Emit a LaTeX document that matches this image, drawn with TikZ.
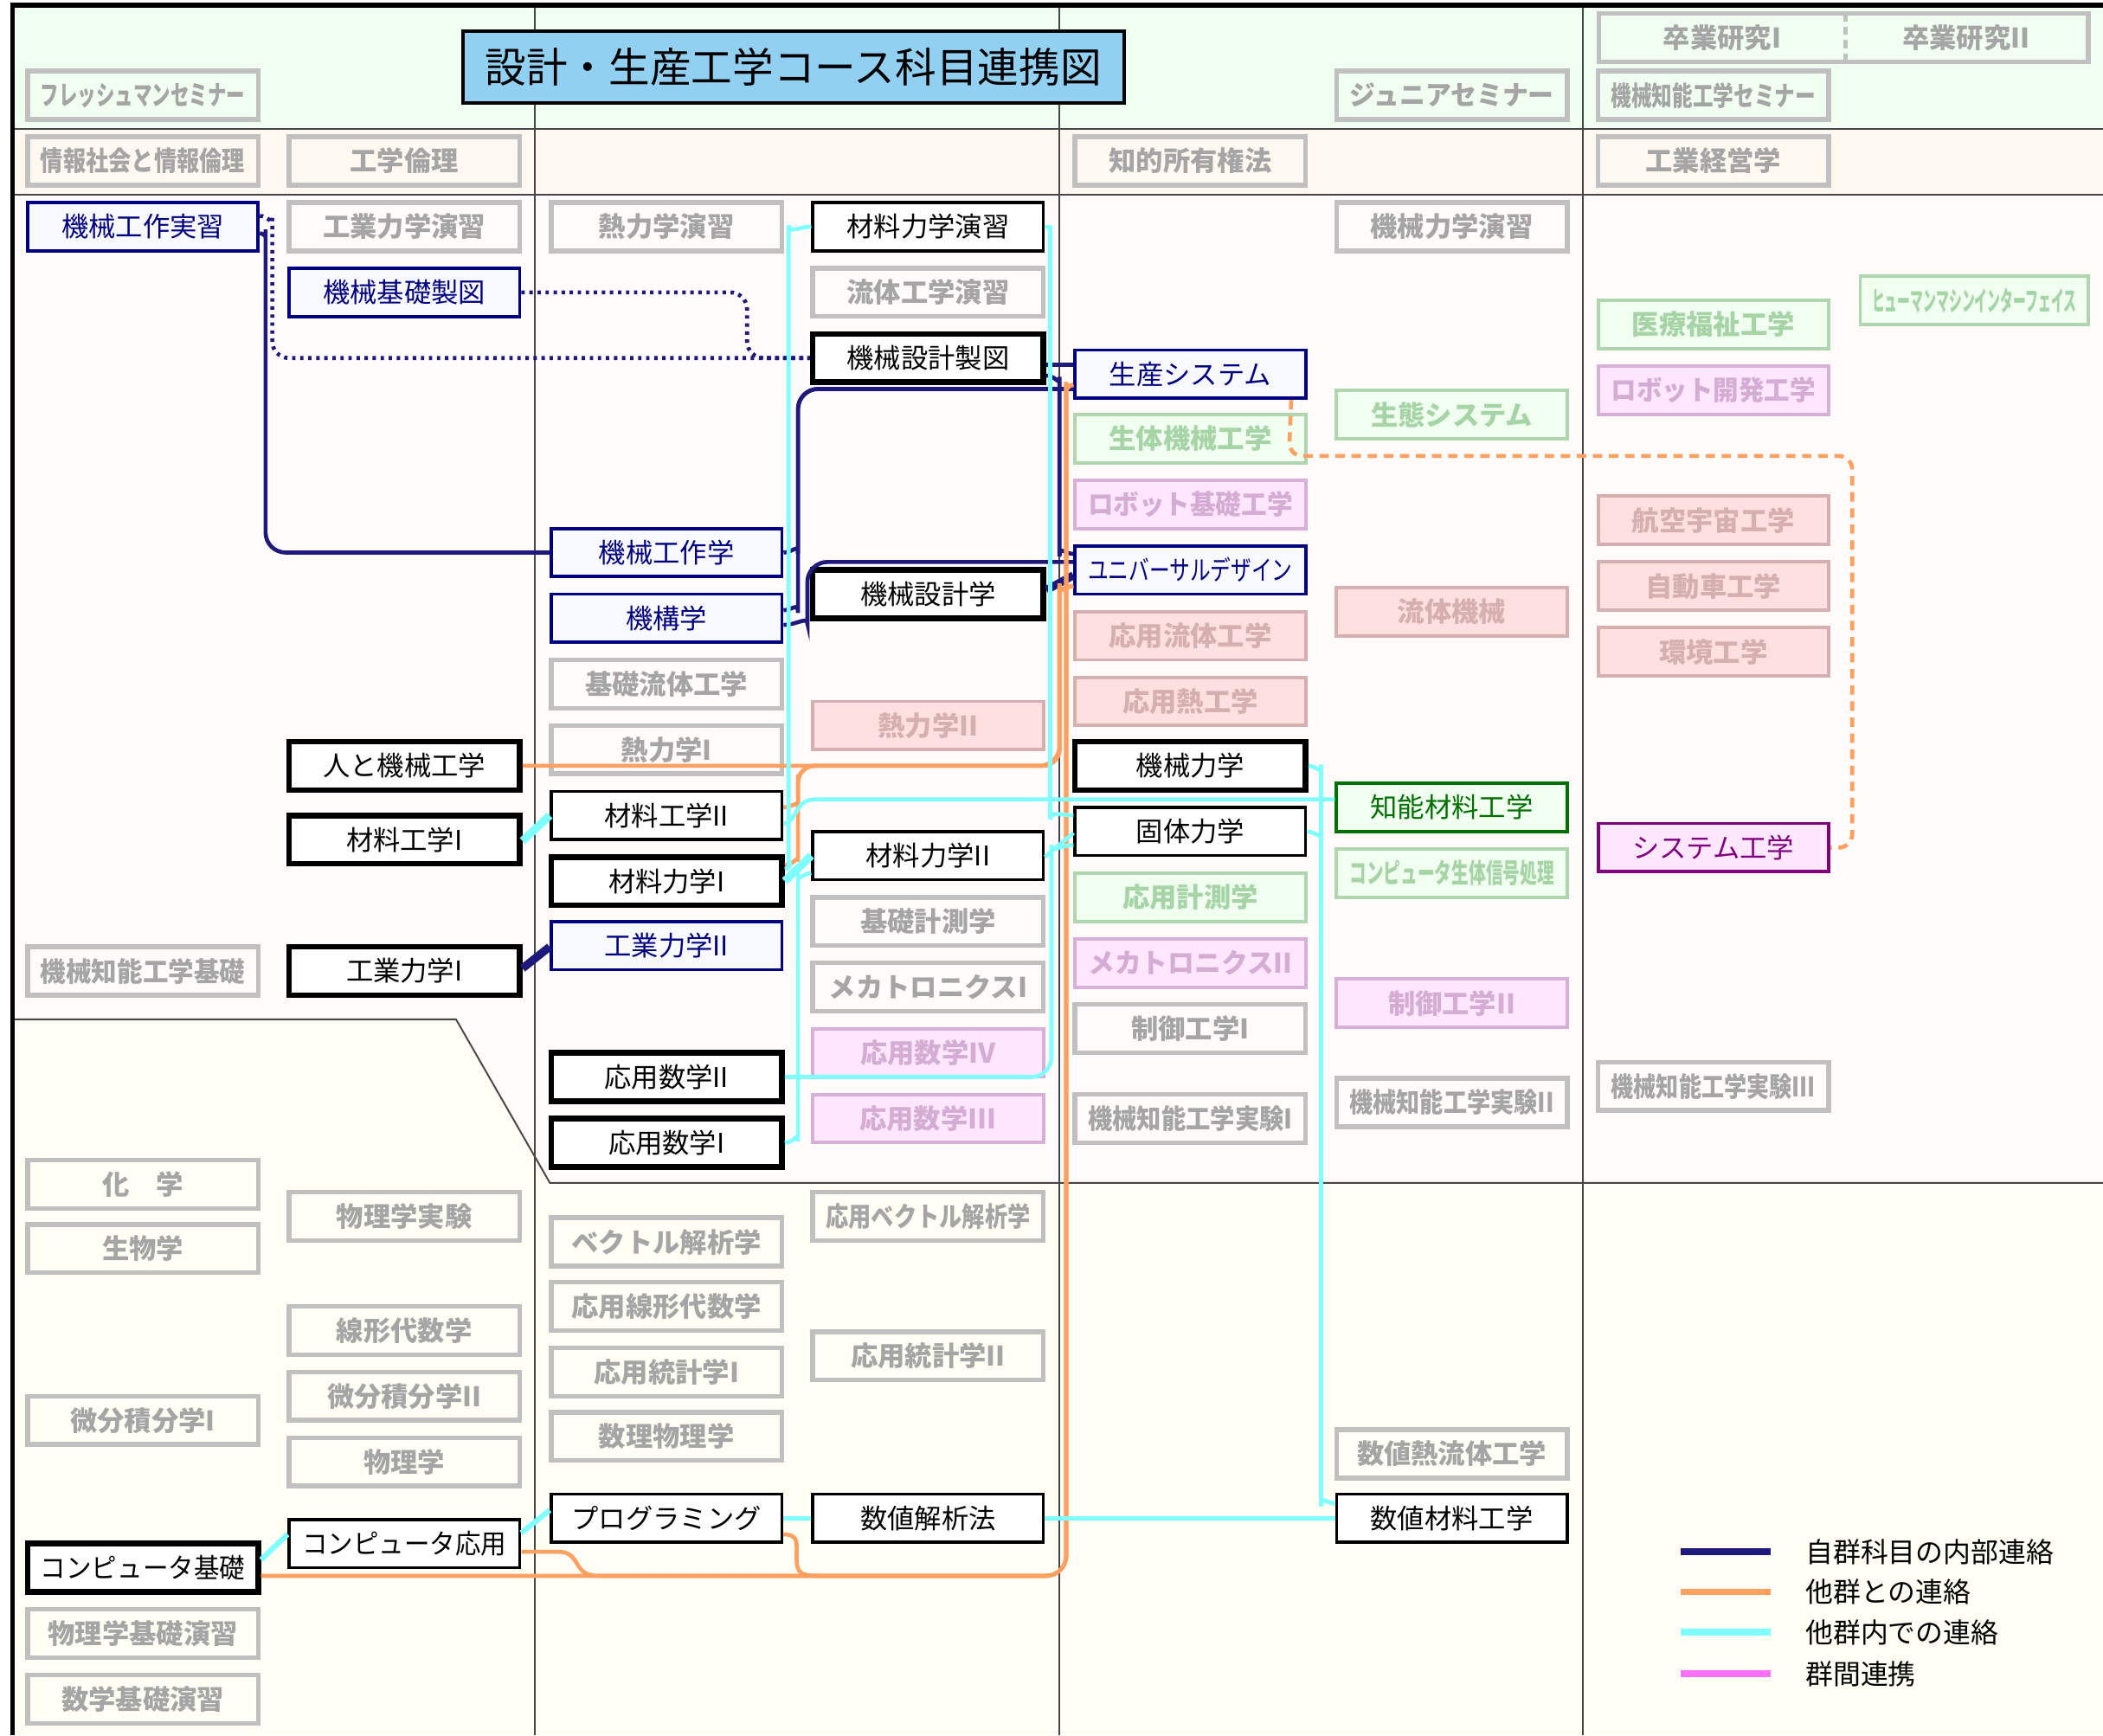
\documentclass[tikz,border=0pt]{standalone}
\usepackage{graphicx}
\usepackage{fontspec}
\setmainfont{Noto Sans CJK JP}
\usetikzlibrary{calc}

\definecolor{rowone}{RGB}{240,255,240}
\definecolor{rowtwo}{RGB}{255,248,240}
\definecolor{mainbg}{RGB}{255,251,250}
\definecolor{lowbg}{RGB}{255,255,245}
\definecolor{gridc}{RGB}{70,70,70}
\definecolor{dimline}{RGB}{192,192,192}
\definecolor{dimtext}{RGB}{165,165,165}
\definecolor{navybox}{RGB}{0,0,128}
\definecolor{navyfill}{RGB}{248,248,255}
\definecolor{navylink}{RGB}{30,25,125}
\definecolor{orangelink}{RGB}{255,160,96}
\definecolor{cyanlink}{RGB}{128,255,255}
\definecolor{pinklink}{RGB}{255,112,255}
\definecolor{fgfill}{RGB}{240,255,240}
\definecolor{fgline}{RGB}{176,214,176}
\definecolor{fgtext}{RGB}{166,212,166}
\definecolor{frfill}{RGB}{255,224,224}
\definecolor{frline}{RGB}{214,176,176}
\definecolor{frtext}{RGB}{214,176,176}
\definecolor{fmfill}{RGB}{255,232,255}
\definecolor{fmline}{RGB}{214,176,214}
\definecolor{fmtext}{RGB}{212,172,212}
\definecolor{chinoc}{RGB}{0,112,0}
\definecolor{sysc}{RGB}{128,0,128}
\definecolor{titlefill}{RGB}{146,208,242}

% squeeze long course names into the box
\newsavebox\lblbox
\newlength\lblmax
\setlength\lblmax{3.05cm}
\newcommand\fl[1]{\sbox\lblbox{#1}\ifdim\wd\lblbox>\lblmax\resizebox{\lblmax}{\ht\lblbox}{\usebox\lblbox}\else\usebox\lblbox\fi}

\tikzset{
    crs/.style={draw, minimum width=3.44cm, minimum height=0.72cm, inner sep=0pt,
        font=\fontsize{11.5}{13}\selectfont},
    dimbox/.style={crs, draw=dimline, line width=0.07cm, text=dimtext,
        font=\fontsize{11.5}{13}\selectfont\bfseries},
    corebox/.style={crs, fill=white, line width=0.085cm},
    thinbox/.style={crs, fill=white, line width=0.045cm},
    ownbox/.style={crs, draw=navybox, fill=navyfill, text=navybox, line width=0.05cm},
    greenbox/.style={crs, draw=fgline, fill=fgfill, text=fgtext, line width=0.05cm,
        font=\fontsize{11.5}{13}\selectfont\bfseries},
    redbox/.style={crs, draw=frline, fill=frfill, text=frtext, line width=0.05cm,
        font=\fontsize{11.5}{13}\selectfont\bfseries},
    pinkbox/.style={crs, draw=fmline, fill=fmfill, text=fmtext, line width=0.05cm,
        font=\fontsize{11.5}{13}\selectfont\bfseries},
    chinobox/.style={crs, draw=chinoc, fill=fgfill, text=chinoc, line width=0.05cm},
    sysbox/.style={crs, draw=sysc, fill=fmfill, text=sysc, line width=0.05cm},
    titlebox/.style={draw, fill=titlefill, line width=0.05cm, minimum width=9.86cm,
        minimum height=1.08cm, font=\fontsize{17.5}{20}\selectfont},
    legtext/.style={anchor=west, font=\fontsize{11.7}{13}\selectfont},
    link/.style={line width=0.06cm},
    ownlink/.style={link, draw=navylink},
    owndots/.style={ownlink, dash pattern=on 0.05cm off 0.07cm},
    otherlink/.style={link, draw=orangelink},
    otherdash/.style={otherlink, dash pattern=on 0.14cm off 0.1cm},
    innerlink/.style={link, draw=cyanlink},
    gridline/.style={draw=gridc, line width=0.025cm}
}

\begin{document}
\begin{tikzpicture}[x=0.02cm, y=-0.02cm]
\useasboundingbox (0,0) rectangle (1568,1294);

% background bands and frame
\fill[rowone] (10,5) rectangle (1568,96);
\fill[rowtwo] (10,96) rectangle (1568,145);
\fill[mainbg] (10,145) rectangle (1568,1294);
\fill[lowbg] (10,760) -- (340,760) -- (410,882) -- (1568,882) -- (1568,1294) -- (10,1294) -- cycle;
\draw[gridline] (10,96) -- (1568,96);
\draw[gridline] (10,145) -- (1568,145);
\draw[gridline] (10,760) -- (340,760) -- (410,882) -- (1568,882);
\foreach \gx in {399,790,1180}
    \draw[gridline] (\gx,5) -- (\gx,1294);
\fill[black] (8,2) rectangle (1568,6);
\fill[black] (8,2) rectangle (11,1294);

% title
\node[titlebox] (title) at (591.5,50) {設計・生産工学コース科目連携図};

% top rows
\node[dimbox] (fresh) at (106.5,71) {\fl{フレッシュマンセミナー}};
\node[dimbox] (junior) at (1082.5,71) {\fl{ジュニアセミナー}};
\draw[dimline, line width=0.07cm] (1192,10) rectangle (1557,46);
\draw[dimline, line width=0.07cm, dash pattern=on 0.12cm off 0.08cm] (1376,10) -- (1376,46);
\node[text=dimtext, font=\fontsize{11.5}{13}\selectfont\bfseries] (sotsuA) at (1284,28) {卒業研究I};
\node[text=dimtext, font=\fontsize{11.5}{13}\selectfont\bfseries] (sotsuB) at (1466,28) {卒業研究II};
\node[dimbox] (kcsemi) at (1277.5,71) {\fl{機械知能工学セミナー}};
\node[dimbox] (johorinri) at (106.5,120) {\fl{情報社会と情報倫理}};
\node[dimbox] (kogakurinri) at (301.5,120) {\fl{工学倫理}};
\node[dimbox] (chiteki) at (887.5,120) {\fl{知的所有権法}};
\node[dimbox] (keiei) at (1277.5,120) {\fl{工業経営学}};

% main area
\node[ownbox] (kosakujisshu) at (106.5,169) {\fl{機械工作実習}};
\node[dimbox] (kogyoen) at (301.5,169) {\fl{工業力学演習}};
\node[dimbox] (netsuen) at (497,169) {\fl{熱力学演習}};
\node[thinbox] (zairikien) at (692,169) {\fl{材料力学演習}};
\node[dimbox] (kikairikien) at (1082.5,169) {\fl{機械力学演習}};
\node[ownbox] (kisoseizu) at (301.5,218) {\fl{機械基礎製図}};
\node[dimbox] (ryutaien) at (692,218) {\fl{流体工学演習}};
\node[greenbox, minimum width=3.4cm] (hmi) at (1472,224) {\fl{ヒューマンマシンインターフェイス}};
\node[greenbox] (iryo) at (1277.5,242) {\fl{医療福祉工学}};
\node[corebox] (seizu) at (692,267) {\fl{機械設計製図}};
\node[ownbox] (seisan) at (887.5,279) {\fl{生産システム}};
\node[pinkbox] (robokai) at (1277.5,291) {\fl{ロボット開発工学}};
\node[greenbox] (seitai) at (1082.5,309) {\fl{生態システム}};
\node[greenbox] (seitaikikai) at (887.5,327) {\fl{生体機械工学}};
\node[pinkbox] (robokiso) at (887.5,376) {\fl{ロボット基礎工学}};
\node[redbox] (koku) at (1277.5,388) {\fl{航空宇宙工学}};
\node[ownbox] (kosakugaku) at (497,412) {\fl{機械工作学}};
\node[ownbox] (ud) at (887.5,425) {\fl{ユニバーサルデザイン}};
\node[redbox] (jidosha) at (1277.5,437) {\fl{自動車工学}};
\node[corebox] (sekkeigaku) at (692,443) {\fl{機械設計学}};
\node[redbox] (ryutaikikai) at (1082.5,456) {\fl{流体機械}};
\node[ownbox] (kiko) at (497,461) {\fl{機構学}};
\node[redbox] (oyoryutai) at (887.5,474) {\fl{応用流体工学}};
\node[redbox] (kankyo) at (1277.5,486) {\fl{環境工学}};
\node[dimbox] (kisoryutai) at (497,510) {\fl{基礎流体工学}};
\node[redbox] (oyonetsu) at (887.5,523) {\fl{応用熱工学}};
\node[redbox] (netsu2) at (692,541) {\fl{熱力学II}};
\node[dimbox] (netsu1) at (497,559) {\fl{熱力学I}};
\node[corebox] (hito) at (301.5,571) {\fl{人と機械工学}};
\node[corebox] (kikairiki) at (887.5,571) {\fl{機械力学}};
\node[chinobox] (chino) at (1082.5,602) {\fl{知能材料工学}};
\node[thinbox] (zaiko2) at (497,608) {\fl{材料工学II}};
\node[thinbox] (kotai) at (887.5,620) {\fl{固体力学}};
\node[corebox] (zaiko1) at (301.5,626) {\fl{材料工学I}};
\node[sysbox] (system) at (1277.5,632) {\fl{システム工学}};
\node[thinbox] (zairiki2) at (692,638) {\fl{材料力学II}};
\node[greenbox] (combio) at (1082.5,651) {\fl{コンピュータ生体信号処理}};
\node[corebox] (zairiki1) at (497,657) {\fl{材料力学I}};
\node[greenbox] (oyokeisoku) at (887.5,669) {\fl{応用計測学}};
\node[dimbox] (kisokeisoku) at (692,687) {\fl{基礎計測学}};
\node[ownbox] (kogyoriki2) at (497,705) {\fl{工業力学II}};
\node[pinkbox] (mecha2) at (887.5,718) {\fl{メカトロニクスII}};
\node[dimbox] (chinokiso) at (106.5,724) {\fl{機械知能工学基礎}};
\node[corebox] (kogyoriki1) at (301.5,724) {\fl{工業力学I}};
\node[dimbox] (mecha1) at (692,736) {\fl{メカトロニクスI}};
\node[pinkbox] (seigyo2) at (1082.5,748) {\fl{制御工学II}};
\node[dimbox] (seigyo1) at (887.5,767) {\fl{制御工学I}};
\node[pinkbox] (oyosu4) at (692,785) {\fl{応用数学IV}};
\node[corebox] (oyosu2) at (497,803) {\fl{応用数学II}};
\node[dimbox] (jikken3) at (1277.5,810) {\fl{機械知能工学実験III}};
\node[dimbox] (jikken2) at (1082.5,822) {\fl{機械知能工学実験II}};
\node[pinkbox] (oyosu3) at (692,834) {\fl{応用数学III}};
\node[dimbox] (jikken1) at (887.5,834) {\fl{機械知能工学実験I}};
\node[corebox] (oyosu1) at (497,852) {\fl{応用数学I}};

% lower area
\node[dimbox] (kagaku) at (106.5,883) {\fl{化　学}};
\node[dimbox] (butsurijikken) at (301.5,907) {\fl{物理学実験}};
\node[dimbox] (oyovector) at (692,907) {\fl{応用ベクトル解析学}};
\node[dimbox] (vector) at (497,926) {\fl{ベクトル解析学}};
\node[dimbox] (seibutsu) at (106.5,931) {\fl{生物学}};
\node[dimbox] (oyosenkei) at (497,974) {\fl{応用線形代数学}};
\node[dimbox] (senkei) at (301.5,992) {\fl{線形代数学}};
\node[dimbox] (oyotokei2) at (692,1011) {\fl{応用統計学II}};
\node[dimbox] (oyotokei1) at (497,1023) {\fl{応用統計学I}};
\node[dimbox] (bibun2) at (301.5,1041) {\fl{微分積分学II}};
\node[dimbox] (bibun1) at (106.5,1059) {\fl{微分積分学I}};
\node[dimbox] (suributsuri) at (497,1071) {\fl{数理物理学}};
\node[dimbox] (suchinetsu) at (1082.5,1084) {\fl{数値熱流体工学}};
\node[dimbox] (butsuri) at (301.5,1090) {\fl{物理学}};
\node[thinbox] (program) at (497,1132) {\fl{プログラミング}};
\node[thinbox] (kaiseki) at (692,1132) {\fl{数値解析法}};
\node[thinbox] (suchizairyo) at (1082.5,1132) {\fl{数値材料工学}};
\node[thinbox] (comoyo) at (301.5,1151) {\fl{コンピュータ応用}};
\node[corebox] (comkiso) at (106.5,1169) {\fl{コンピュータ基礎}};
\node[dimbox] (butsurikisoen) at (106.5,1218) {\fl{物理学基礎演習}};
\node[dimbox] (sugakukisoen) at (106.5,1267) {\fl{数学基礎演習}};

% own group links
\draw[ownlink, rounded corners=0.3cm] ($(kosakujisshu.east)+(0,5)$) to[out=0,in=90] (198,186) -- (198,412) -- (kosakugaku.west);
\draw[owndots, rounded corners=0.25cm] ($(kosakujisshu.east)+(0,-8)$) to[out=0,in=90] (203,175) -- (203,267) -- (seizu.west);
\draw[owndots, rounded corners=0.25cm] (kisoseizu.east) -- (557,218) -- (557,267) -- (seizu.west);
\draw[ownlink] ($(seizu.east)+(0,5)$) -- ($(seisan.west)+(0,-7)$);
\draw[ownlink, rounded corners=0.3cm] ($(seizu.east)+(0,13)$) to[out=0,in=90] (790,296) -- (790,400) to[out=-90,in=180] ($(ud.west)+(0,-12)$);
\draw[ownlink, rounded corners=0.3cm] (kosakugaku.east) to[out=0,in=-90] (595,398) -- (595,290) -- ($(seisan.west)+(0,11)$);
\draw[ownlink, rounded corners=0.3cm] ($(kiko.east)+(0,-6)$) to[out=0,in=-90] (595,442) -- (595,290) -- ($(seisan.west)+(0,11)$);
\draw[ownlink, rounded corners=0.3cm] ($(kiko.east)+(0,5)$) to[out=0,in=-90] (602,450) -- (602,419) -- ($(ud.west)+(0,-6)$);
\draw[ownlink, line width=0.12cm] ($(sekkeigaku.east)+(0,-3)$) -- ($(ud.west)+(0,4)$);
\draw[ownlink, line width=0.12cm] ($(kogyoriki1.east)+(0,-2)$) -- ($(kogyoriki2.west)+(0,1)$);

% links to other groups
\draw[otherlink, rounded corners=0.3cm] (hito.east) -- (790,571) -- (790,450) to[out=90,in=180] ($(ud.west)+(0,12)$);
\draw[otherlink, rounded corners=0.25cm] ($(zaiko2.east)+(0,-6)$) to[out=0,in=-90] (595,590) -- (595,571) -- (790,571) -- (790,450) to[out=90,in=180] ($(ud.west)+(0,12)$);
\draw[otherlink, rounded corners=0.25cm] ($(zairiki1.east)+(0,-12)$) to[out=0,in=-90] (595,630) -- (595,571) -- (790,571) -- (790,450) to[out=90,in=180] ($(ud.west)+(0,12)$);
\draw[otherlink, rounded corners=0.3cm] ($(comkiso.east)+(0,6)$) -- (795,1175) -- (795,300) to[out=90,in=180] ($(seisan.west)+(0,8)$);
\draw[otherlink] ($(comoyo.east)+(0,6)$) -- (416,1157) .. controls (434,1157) and (426,1175) .. (446,1175)
    [rounded corners=0.3cm] -- (795,1175) -- (795,300) to[out=90,in=180] ($(seisan.west)+(0,8)$);
\draw[otherlink] ($(program.east)+(0,12)$) .. controls (595,1144) and (594,1150) .. (594,1158)
    -- (594,1163) .. controls (594,1173) and (598,1175) .. (610,1175)
    [rounded corners=0.3cm] -- (795,1175) -- (795,300) to[out=90,in=180] ($(seisan.west)+(0,8)$);
\draw[otherdash, rounded corners=0.2cm] ($(seisan.south east)+(-12,0)$) -- (961,340) -- (1381,340) -- (1381,632) -- (system.east);

% links inside other groups
\draw[innerlink, rounded corners=0.3cm] (zairikien.west) to[out=180,in=90] (588,183) -- (588,632) to[out=-90,in=0] ($(zairiki1.east)+(0,-9)$);
\draw[innerlink, rounded corners=0.3cm] (zairikien.east) to[out=0,in=90] (783,183) -- (783,596) to[out=-90,in=180] ($(kotai.west)+(0,-12)$);
\draw[innerlink] ($(zaiko2.east)+(0,6)$) .. controls (594,614) and (592,596) .. (608,596) -- ($(chino.west)+(0,-6)$);
\draw[innerlink, line width=0.12cm] ($(zaiko1.east)+(0,1)$) -- (zaiko2.west);
\draw[innerlink, line width=0.12cm] (zairiki1.east) -- (zairiki2.west);
\draw[innerlink] ($(zairiki2.east)+(0,1)$) -- ($(kotai.west)+(0,1)$);
\draw[innerlink, rounded corners=0.3cm] ($(zairiki2.west)+(0,13)$) to[out=180,in=90] (595,666) -- (595,836) to[out=-90,in=0] (oyosu1.east);
\draw[innerlink, rounded corners=0.3cm] (oyosu2.east) -- (784,803) -- (784,645) to[out=90,in=180] ($(kotai.west)+(0,10)$);
\draw[innerlink, rounded corners=0.3cm] (kikairiki.east) to[out=0,in=90] (985,585) -- (985,1108) to[out=-90,in=180] ($(suchizairyo.west)+(0,-11)$);
\draw[innerlink, rounded corners=0.3cm] (kotai.east) to[out=0,in=90] (985,634) -- (985,1108) to[out=-90,in=180] ($(suchizairyo.west)+(0,-11)$);
\draw[innerlink] (program.east) -- (kaiseki.west);
\draw[innerlink] (kaiseki.east) -- (suchizairyo.west);
\draw[innerlink, line width=0.08cm] ($(comkiso.east)+(0,-6)$) -- ($(comoyo.west)+(0,-7)$);
\draw[innerlink, line width=0.08cm] ($(comoyo.east)+(0,-8)$) -- ($(program.west)+(0,-6)$);

% legend
\draw[ownlink, line width=0.1cm] (1253,1157) -- (1320,1157);
\draw[otherlink, line width=0.1cm] (1253,1187) -- (1320,1187);
\draw[innerlink, line width=0.1cm] (1253,1217) -- (1320,1217);
\draw[draw=pinklink, line width=0.1cm] (1253,1248) -- (1320,1248);
\node[legtext] (legown) at (1340,1157) {自群科目の内部連絡};
\node[legtext] (legother) at (1340,1187) {他群との連絡};
\node[legtext] (leginner) at (1340,1217) {他群内での連絡};
\node[legtext] (legcross) at (1340,1248) {群間連携};
\end{tikzpicture}
\end{document}
